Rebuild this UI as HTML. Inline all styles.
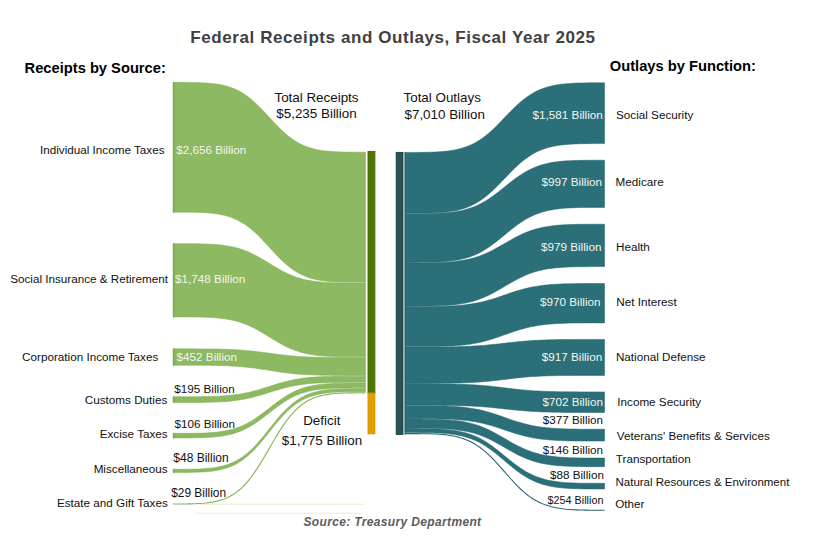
<!DOCTYPE html>
<html><head><meta charset="utf-8"><title>Federal Receipts and Outlays, Fiscal Year 2025</title>
<style>
html,body{margin:0;padding:0;background:#fff;}
body{width:815px;height:541px;overflow:hidden;}
svg{display:block;font-family:"Liberation Sans", Arial, sans-serif;}
</style></head><body>
<svg width="815" height="541" viewBox="0 0 815 541">
<rect width="815" height="541" fill="#fff"/>
<path d="M200,504.2 L365,504.2" stroke="#f6e7cb" stroke-width="1" fill="none"/>
<path d="M195.5,513.2 L362.5,513.2" stroke="#f6e7cb" stroke-width="1" fill="none"/>
<path d="M173.00,82.35L176.01,82.35L179.02,82.35L182.02,82.36L185.03,82.37L188.04,82.39L191.05,82.43L194.05,82.48L197.06,82.55L200.07,82.65L203.08,82.79L206.09,82.97L209.09,83.20L212.10,83.49L215.11,83.85L218.12,84.30L221.12,84.84L224.13,85.50L227.14,86.30L230.15,87.24L233.16,88.34L236.16,89.63L239.17,91.12L242.18,92.82L245.19,94.75L248.20,96.90L251.20,99.28L254.21,101.88L257.22,104.68L260.23,107.66L263.23,110.77L266.24,113.99L269.25,117.25L272.26,120.51L275.27,123.73L278.27,126.84L281.28,129.82L284.29,132.62L287.30,135.22L290.30,137.60L293.31,139.75L296.32,141.68L299.33,143.38L302.34,144.87L305.34,146.16L308.35,147.26L311.36,148.20L314.37,149.00L317.38,149.66L320.38,150.20L323.39,150.65L326.40,151.01L329.41,151.30L332.41,151.53L335.42,151.71L338.43,151.85L341.44,151.95L344.45,152.02L347.45,152.07L350.46,152.11L353.47,152.13L356.48,152.14L359.48,152.15L362.49,152.15L365.50,152.15L365.50,282.35L362.49,282.35L359.48,282.35L356.48,282.34L353.47,282.33L350.46,282.31L347.45,282.27L344.45,282.22L341.44,282.15L338.43,282.04L335.42,281.91L332.41,281.73L329.41,281.50L326.40,281.21L323.39,280.84L320.38,280.39L317.38,279.84L314.37,279.18L311.36,278.38L308.35,277.44L305.34,276.32L302.34,275.03L299.33,273.53L296.32,271.82L293.31,269.88L290.30,267.71L287.30,265.32L284.29,262.71L281.28,259.89L278.27,256.90L275.27,253.76L272.26,250.53L269.25,247.25L266.24,243.97L263.23,240.74L260.23,237.60L257.22,234.61L254.21,231.79L251.20,229.18L248.20,226.79L245.19,224.62L242.18,222.68L239.17,220.97L236.16,219.47L233.16,218.18L230.15,217.06L227.14,216.12L224.13,215.32L221.12,214.66L218.12,214.11L215.11,213.66L212.10,213.29L209.09,213.00L206.09,212.77L203.08,212.59L200.07,212.46L197.06,212.35L194.05,212.28L191.05,212.23L188.04,212.19L185.03,212.17L182.02,212.16L179.02,212.15L176.01,212.15L173.00,212.15Z" fill="#8cb961" stroke="#7cb14f" stroke-width="0.5"/>
<path d="M173.00,243.65L176.01,243.65L179.02,243.65L182.02,243.65L185.03,243.66L188.04,243.67L191.05,243.69L194.05,243.72L197.06,243.76L200.07,243.82L203.08,243.90L206.09,244.00L209.09,244.13L212.10,244.29L215.11,244.50L218.12,244.75L221.12,245.06L224.13,245.43L227.14,245.88L230.15,246.41L233.16,247.03L236.16,247.76L239.17,248.60L242.18,249.56L245.19,250.65L248.20,251.86L251.20,253.21L254.21,254.68L257.22,256.26L260.23,257.94L263.23,259.69L266.24,261.51L269.25,263.35L272.26,265.19L275.27,267.01L278.27,268.76L281.28,270.44L284.29,272.02L287.30,273.49L290.30,274.84L293.31,276.05L296.32,277.14L299.33,278.10L302.34,278.94L305.34,279.67L308.35,280.29L311.36,280.82L314.37,281.27L317.38,281.64L320.38,281.95L323.39,282.20L326.40,282.41L329.41,282.57L332.41,282.70L335.42,282.80L338.43,282.88L341.44,282.94L344.45,282.98L347.45,283.01L350.46,283.03L353.47,283.04L356.48,283.05L359.48,283.05L362.49,283.05L365.50,283.05L365.50,356.85L362.49,356.85L359.48,356.85L356.48,356.85L353.47,356.84L350.46,356.83L347.45,356.81L344.45,356.78L341.44,356.73L338.43,356.68L335.42,356.60L332.41,356.50L329.41,356.37L326.40,356.20L323.39,355.99L320.38,355.74L317.38,355.42L314.37,355.05L311.36,354.59L308.35,354.06L305.34,353.42L302.34,352.69L299.33,351.84L296.32,350.86L293.31,349.76L290.30,348.53L287.30,347.17L284.29,345.68L281.28,344.08L278.27,342.38L275.27,340.60L272.26,338.77L269.25,336.90L266.24,335.03L263.23,333.20L260.23,331.42L257.22,329.72L254.21,328.12L251.20,326.63L248.20,325.27L245.19,324.04L242.18,322.94L239.17,321.96L236.16,321.11L233.16,320.38L230.15,319.74L227.14,319.21L224.13,318.75L221.12,318.38L218.12,318.06L215.11,317.81L212.10,317.60L209.09,317.43L206.09,317.30L203.08,317.20L200.07,317.12L197.06,317.07L194.05,317.02L191.05,316.99L188.04,316.97L185.03,316.96L182.02,316.95L179.02,316.95L176.01,316.95L173.00,316.95Z" fill="#8cb961" stroke="#7cb14f" stroke-width="0.5"/>
<path d="M173.00,348.85L176.01,348.85L179.02,348.85L182.02,348.85L185.03,348.85L188.04,348.86L191.05,348.86L194.05,348.87L197.06,348.88L200.07,348.89L203.08,348.90L206.09,348.93L209.09,348.96L212.10,348.99L215.11,349.04L218.12,349.09L221.12,349.16L224.13,349.24L227.14,349.34L230.15,349.46L233.16,349.60L236.16,349.76L239.17,349.94L242.18,350.16L245.19,350.40L248.20,350.66L251.20,350.96L254.21,351.28L257.22,351.63L260.23,352.00L263.23,352.39L266.24,352.79L269.25,353.20L272.26,353.61L275.27,354.01L278.27,354.40L281.28,354.77L284.29,355.12L287.30,355.44L290.30,355.74L293.31,356.00L296.32,356.24L299.33,356.46L302.34,356.64L305.34,356.80L308.35,356.94L311.36,357.06L314.37,357.16L317.38,357.24L320.38,357.31L323.39,357.36L326.40,357.41L329.41,357.44L332.41,357.47L335.42,357.50L338.43,357.51L341.44,357.52L344.45,357.53L347.45,357.54L350.46,357.54L353.47,357.55L356.48,357.55L359.48,357.55L362.49,357.55L365.50,357.55L365.50,375.45L362.49,375.45L359.48,375.45L356.48,375.45L353.47,375.45L350.46,375.44L347.45,375.44L344.45,375.43L341.44,375.42L338.43,375.41L335.42,375.39L332.41,375.36L329.41,375.33L326.40,375.28L323.39,375.23L320.38,375.17L317.38,375.09L314.37,374.99L311.36,374.87L308.35,374.74L305.34,374.57L302.34,374.39L299.33,374.17L296.32,373.92L293.31,373.64L290.30,373.32L287.30,372.98L284.29,372.60L281.28,372.19L278.27,371.75L275.27,371.30L272.26,370.83L269.25,370.35L266.24,369.87L263.23,369.40L260.23,368.95L257.22,368.51L254.21,368.10L251.20,367.72L248.20,367.38L245.19,367.06L242.18,366.78L239.17,366.53L236.16,366.31L233.16,366.13L230.15,365.96L227.14,365.83L224.13,365.71L221.12,365.61L218.12,365.53L215.11,365.47L212.10,365.42L209.09,365.37L206.09,365.34L203.08,365.31L200.07,365.29L197.06,365.28L194.05,365.27L191.05,365.26L188.04,365.26L185.03,365.25L182.02,365.25L179.02,365.25L176.01,365.25L173.00,365.25Z" fill="#8cb961" stroke="#7cb14f" stroke-width="0.5"/>
<path d="M173.00,396.75L176.01,396.75L179.02,396.75L182.02,396.75L185.03,396.74L188.04,396.74L191.05,396.73L194.05,396.71L197.06,396.69L200.07,396.66L203.08,396.62L206.09,396.57L209.09,396.50L212.10,396.41L215.11,396.31L218.12,396.18L221.12,396.01L224.13,395.82L227.14,395.59L230.15,395.31L233.16,394.98L236.16,394.60L239.17,394.16L242.18,393.66L245.19,393.09L248.20,392.46L251.20,391.75L254.21,390.99L257.22,390.16L260.23,389.28L263.23,388.36L266.24,387.41L269.25,386.45L272.26,385.49L275.27,384.54L278.27,383.62L281.28,382.74L284.29,381.91L287.30,381.15L290.30,380.44L293.31,379.81L296.32,379.24L299.33,378.74L302.34,378.30L305.34,377.92L308.35,377.59L311.36,377.31L314.37,377.08L317.38,376.89L320.38,376.72L323.39,376.59L326.40,376.49L329.41,376.40L332.41,376.33L335.42,376.28L338.43,376.24L341.44,376.21L344.45,376.19L347.45,376.17L350.46,376.16L353.47,376.16L356.48,376.15L359.48,376.15L362.49,376.15L365.50,376.15L365.50,382.35L362.49,382.35L359.48,382.35L356.48,382.35L353.47,382.36L350.46,382.36L347.45,382.37L344.45,382.39L341.44,382.41L338.43,382.44L335.42,382.48L332.41,382.53L329.41,382.60L326.40,382.68L323.39,382.78L320.38,382.91L317.38,383.07L314.37,383.26L311.36,383.49L308.35,383.76L305.34,384.08L302.34,384.46L299.33,384.89L296.32,385.38L293.31,385.94L290.30,386.56L287.30,387.25L284.29,388.00L281.28,388.81L278.27,389.67L275.27,390.58L272.26,391.51L269.25,392.45L266.24,393.39L263.23,394.32L260.23,395.23L257.22,396.09L254.21,396.90L251.20,397.65L248.20,398.34L245.19,398.96L242.18,399.52L239.17,400.01L236.16,400.44L233.16,400.82L230.15,401.14L227.14,401.41L224.13,401.64L221.12,401.83L218.12,401.99L215.11,402.12L212.10,402.22L209.09,402.30L206.09,402.37L203.08,402.42L200.07,402.46L197.06,402.49L194.05,402.51L191.05,402.53L188.04,402.54L185.03,402.54L182.02,402.55L179.02,402.55L176.01,402.55L173.00,402.55Z" fill="#8cb961" stroke="#7cb14f" stroke-width="0.5"/>
<path d="M173.00,433.35L176.01,433.35L179.02,433.35L182.02,433.34L185.03,433.34L188.04,433.32L191.05,433.29L194.05,433.26L197.06,433.20L200.07,433.13L203.08,433.03L206.09,432.90L209.09,432.74L212.10,432.53L215.11,432.27L218.12,431.95L221.12,431.55L224.13,431.08L227.14,430.51L230.15,429.83L233.16,429.03L236.16,428.10L239.17,427.03L242.18,425.80L245.19,424.42L248.20,422.86L251.20,421.15L254.21,419.27L257.22,417.26L260.23,415.11L263.23,412.87L266.24,410.55L269.25,408.20L272.26,405.85L275.27,403.53L278.27,401.29L281.28,399.14L284.29,397.13L287.30,395.25L290.30,393.54L293.31,391.98L296.32,390.60L299.33,389.37L302.34,388.30L305.34,387.37L308.35,386.57L311.36,385.89L314.37,385.32L317.38,384.85L320.38,384.45L323.39,384.13L326.40,383.87L329.41,383.66L332.41,383.50L335.42,383.37L338.43,383.27L341.44,383.20L344.45,383.14L347.45,383.11L350.46,383.08L353.47,383.06L356.48,383.06L359.48,383.05L362.49,383.05L365.50,383.05L365.50,387.85L362.49,387.85L359.48,387.85L356.48,387.86L353.47,387.86L350.46,387.88L347.45,387.91L344.45,387.94L341.44,388.00L338.43,388.07L335.42,388.17L332.41,388.29L329.41,388.46L326.40,388.67L323.39,388.93L320.38,389.25L317.38,389.64L314.37,390.11L311.36,390.68L308.35,391.36L305.34,392.15L302.34,393.08L299.33,394.15L296.32,395.37L293.31,396.75L290.30,398.30L287.30,400.00L284.29,401.87L281.28,403.88L278.27,406.02L275.27,408.25L272.26,410.56L269.25,412.90L266.24,415.24L263.23,417.55L260.23,419.78L257.22,421.92L254.21,423.93L251.20,425.80L248.20,427.50L245.19,429.05L242.18,430.43L239.17,431.65L236.16,432.72L233.16,433.65L230.15,434.44L227.14,435.12L224.13,435.69L221.12,436.16L218.12,436.55L215.11,436.87L212.10,437.13L209.09,437.34L206.09,437.51L203.08,437.63L200.07,437.73L197.06,437.80L194.05,437.86L191.05,437.89L188.04,437.92L185.03,437.94L182.02,437.94L179.02,437.95L176.01,437.95L173.00,437.95Z" fill="#8cb961" stroke="#7cb14f" stroke-width="0.5"/>
<path d="M173.00,469.25L176.01,469.25L179.02,469.25L182.02,469.24L185.03,469.23L188.04,469.20L191.05,469.16L194.05,469.10L197.06,469.02L200.07,468.90L203.08,468.74L206.09,468.53L209.09,468.27L212.10,467.94L215.11,467.52L218.12,467.00L221.12,466.37L224.13,465.60L227.14,464.69L230.15,463.60L233.16,462.32L236.16,460.83L239.17,459.11L242.18,457.14L245.19,454.92L248.20,452.42L251.20,449.67L254.21,446.67L257.22,443.43L260.23,439.99L263.23,436.39L266.24,432.67L269.25,428.90L272.26,425.13L275.27,421.41L278.27,417.81L281.28,414.37L284.29,411.13L287.30,408.13L290.30,405.38L293.31,402.88L296.32,400.66L299.33,398.69L302.34,396.97L305.34,395.48L308.35,394.20L311.36,393.11L314.37,392.20L317.38,391.43L320.38,390.80L323.39,390.28L326.40,389.86L329.41,389.53L332.41,389.27L335.42,389.06L338.43,388.90L341.44,388.78L344.45,388.70L347.45,388.64L350.46,388.60L353.47,388.57L356.48,388.56L359.48,388.55L362.49,388.55L365.50,388.55L365.50,391.65L362.49,391.65L359.48,391.65L356.48,391.66L353.47,391.67L350.46,391.70L347.45,391.74L344.45,391.80L341.44,391.88L338.43,392.00L335.42,392.16L332.41,392.37L329.41,392.63L326.40,392.97L323.39,393.39L320.38,393.90L317.38,394.54L314.37,395.30L311.36,396.22L308.35,397.31L305.34,398.59L302.34,400.08L299.33,401.80L296.32,403.77L293.31,406.00L290.30,408.50L287.30,411.25L284.29,414.26L281.28,417.50L278.27,420.95L275.27,424.55L272.26,428.27L269.25,432.05L266.24,435.83L263.23,439.55L260.23,443.15L257.22,446.60L254.21,449.84L251.20,452.85L248.20,455.60L245.19,458.10L242.18,460.33L239.17,462.30L236.16,464.02L233.16,465.51L230.15,466.79L227.14,467.88L224.13,468.80L221.12,469.56L218.12,470.20L215.11,470.71L212.10,471.13L209.09,471.47L206.09,471.73L203.08,471.94L200.07,472.10L197.06,472.22L194.05,472.30L191.05,472.36L188.04,472.40L185.03,472.43L182.02,472.44L179.02,472.45L176.01,472.45L173.00,472.45Z" fill="#8cb961" stroke="#7cb14f" stroke-width="0.5"/>
<path d="M173.00,504.00L176.01,504.00L179.02,504.00L182.02,503.99L185.03,503.97L188.04,503.93L191.05,503.88L194.05,503.79L197.06,503.68L200.07,503.51L203.08,503.30L206.09,503.01L209.09,502.65L212.10,502.19L215.11,501.61L218.12,500.90L221.12,500.03L224.13,498.98L227.14,497.71L230.15,496.22L233.16,494.45L236.16,492.40L239.17,490.03L242.18,487.31L245.19,484.25L248.20,480.82L251.20,477.02L254.21,472.88L257.22,468.42L260.23,463.68L263.23,458.72L266.24,453.60L269.25,448.40L272.26,443.20L275.27,438.08L278.27,433.12L281.28,428.38L284.29,423.92L287.30,419.78L290.30,415.98L293.31,412.55L296.32,409.49L299.33,406.77L302.34,404.40L305.34,402.35L308.35,400.58L311.36,399.09L314.37,397.82L317.38,396.77L320.38,395.90L323.39,395.19L326.40,394.61L329.41,394.15L332.41,393.79L335.42,393.50L338.43,393.29L341.44,393.12L344.45,393.01L347.45,392.92L350.46,392.87L353.47,392.83L356.48,392.81L359.48,392.80L362.49,392.80L365.50,392.80" stroke="#86b75a" stroke-width="1.15" fill="none"/>
<rect x="173.0" y="82.0" width="1.6" height="130.50" fill="#7aae4c"/>
<rect x="173.0" y="243.3" width="1.6" height="74.00" fill="#7aae4c"/>
<rect x="173.0" y="348.5" width="1.6" height="17.10" fill="#7aae4c"/>
<rect x="173.0" y="396.4" width="1.6" height="6.50" fill="#7aae4c"/>
<rect x="173.0" y="433.0" width="1.6" height="5.30" fill="#7aae4c"/>
<rect x="173.0" y="468.9" width="1.6" height="3.90" fill="#7aae4c"/>
<rect x="368.0" y="151.4" width="6.9" height="241.6" fill="#517600" stroke="#3d6c00" stroke-width="0.9"/>
<rect x="368.0" y="393" width="6.9" height="40.8" fill="#e0a100" stroke="#d69300" stroke-width="0.9"/>
<path d="M404.80,152.40L407.92,152.40L411.04,152.40L414.16,152.39L417.28,152.38L420.40,152.36L423.52,152.32L426.64,152.27L429.76,152.20L432.88,152.10L436.00,151.96L439.12,151.78L442.24,151.56L445.36,151.27L448.48,150.90L451.60,150.46L454.73,149.91L457.85,149.26L460.97,148.47L464.09,147.53L467.21,146.42L470.33,145.14L473.45,143.65L476.57,141.96L479.69,140.04L482.81,137.89L485.93,135.51L489.05,132.92L492.17,130.13L495.29,127.16L498.41,124.06L501.53,120.85L504.65,117.60L507.77,114.35L510.89,111.14L514.01,108.04L517.13,105.07L520.25,102.28L523.37,99.69L526.49,97.31L529.61,95.16L532.73,93.24L535.85,91.55L538.97,90.06L542.09,88.78L545.21,87.67L548.33,86.73L551.45,85.94L554.58,85.29L557.70,84.74L560.82,84.30L563.94,83.93L567.06,83.64L570.18,83.42L573.30,83.24L576.42,83.10L579.54,83.00L582.66,82.93L585.78,82.88L588.90,82.84L592.02,82.82L595.14,82.81L598.26,82.80L601.38,82.80L604.50,82.80L604.50,143.60L601.38,143.60L598.26,143.60L595.14,143.61L592.02,143.62L588.90,143.64L585.78,143.68L582.66,143.73L579.54,143.80L576.42,143.90L573.30,144.04L570.18,144.22L567.06,144.45L563.94,144.74L560.82,145.10L557.70,145.54L554.58,146.09L551.45,146.75L548.33,147.54L545.21,148.48L542.09,149.58L538.97,150.87L535.85,152.36L532.73,154.06L529.61,155.98L526.49,158.13L523.37,160.51L520.25,163.11L517.13,165.90L514.01,168.87L510.89,171.98L507.77,175.19L504.65,178.45L501.53,181.71L498.41,184.92L495.29,188.03L492.17,191.00L489.05,193.79L485.93,196.39L482.81,198.77L479.69,200.92L476.57,202.84L473.45,204.54L470.33,206.03L467.21,207.32L464.09,208.42L460.97,209.36L457.85,210.15L454.73,210.81L451.60,211.36L448.48,211.80L445.36,212.16L442.24,212.45L439.12,212.68L436.00,212.86L432.88,213.00L429.76,213.10L426.64,213.17L423.52,213.22L420.40,213.26L417.28,213.28L414.16,213.29L411.04,213.30L407.92,213.30L404.80,213.30Z" fill="#2b6f79" stroke="#1f6571" stroke-width="0.5"/>
<path d="M404.80,213.70L407.92,213.70L411.04,213.70L414.16,213.69L417.28,213.68L420.40,213.67L423.52,213.64L426.64,213.60L429.76,213.54L432.88,213.47L436.00,213.36L439.12,213.23L442.24,213.05L445.36,212.83L448.48,212.55L451.60,212.21L454.73,211.79L457.85,211.28L460.97,210.68L464.09,209.95L467.21,209.11L470.33,208.12L473.45,206.98L476.57,205.67L479.69,204.20L482.81,202.55L485.93,200.72L489.05,198.73L492.17,196.58L495.29,194.30L498.41,191.91L501.53,189.45L504.65,186.95L507.77,184.45L510.89,181.99L514.01,179.60L517.13,177.32L520.25,175.17L523.37,173.18L526.49,171.35L529.61,169.70L532.73,168.23L535.85,166.92L538.97,165.78L542.09,164.79L545.21,163.95L548.33,163.22L551.45,162.62L554.58,162.11L557.70,161.69L560.82,161.35L563.94,161.07L567.06,160.85L570.18,160.67L573.30,160.54L576.42,160.43L579.54,160.36L582.66,160.30L585.78,160.26L588.90,160.23L592.02,160.22L595.14,160.21L598.26,160.20L601.38,160.20L604.50,160.20L604.50,207.40L601.38,207.40L598.26,207.40L595.14,207.41L592.02,207.42L588.90,207.43L585.78,207.46L582.66,207.50L579.54,207.56L576.42,207.64L573.30,207.75L570.18,207.89L567.06,208.07L563.94,208.30L560.82,208.58L557.70,208.93L554.58,209.36L551.45,209.89L548.33,210.51L545.21,211.25L542.09,212.12L538.97,213.14L535.85,214.31L532.73,215.65L529.61,217.17L526.49,218.87L523.37,220.74L520.25,222.79L517.13,225.00L514.01,227.34L510.89,229.80L507.77,232.33L504.65,234.90L501.53,237.47L498.41,240.00L495.29,242.46L492.17,244.80L489.05,247.01L485.93,249.06L482.81,250.93L479.69,252.63L476.57,254.15L473.45,255.49L470.33,256.66L467.21,257.68L464.09,258.55L460.97,259.29L457.85,259.91L454.73,260.44L451.60,260.87L448.48,261.22L445.36,261.50L442.24,261.73L439.12,261.91L436.00,262.05L432.88,262.16L429.76,262.24L426.64,262.30L423.52,262.34L420.40,262.37L417.28,262.38L414.16,262.39L411.04,262.40L407.92,262.40L404.80,262.40Z" fill="#2b6f79" stroke="#1f6571" stroke-width="0.5"/>
<path d="M404.80,262.80L407.92,262.80L411.04,262.80L414.16,262.80L417.28,262.79L420.40,262.78L423.52,262.76L426.64,262.73L429.76,262.69L432.88,262.63L436.00,262.56L439.12,262.46L442.24,262.33L445.36,262.17L448.48,261.97L451.60,261.72L454.73,261.42L457.85,261.06L460.97,260.62L464.09,260.10L467.21,259.49L470.33,258.77L473.45,257.95L476.57,257.01L479.69,255.94L482.81,254.75L485.93,253.44L489.05,252.00L492.17,250.45L495.29,248.80L498.41,247.08L501.53,245.30L504.65,243.50L507.77,241.70L510.89,239.92L514.01,238.20L517.13,236.55L520.25,235.00L523.37,233.56L526.49,232.25L529.61,231.06L532.73,229.99L535.85,229.05L538.97,228.23L542.09,227.51L545.21,226.90L548.33,226.38L551.45,225.94L554.58,225.58L557.70,225.28L560.82,225.03L563.94,224.83L567.06,224.67L570.18,224.54L573.30,224.44L576.42,224.37L579.54,224.31L582.66,224.27L585.78,224.24L588.90,224.22L592.02,224.21L595.14,224.20L598.26,224.20L601.38,224.20L604.50,224.20L604.50,266.60L601.38,266.60L598.26,266.60L595.14,266.60L592.02,266.61L588.90,266.62L585.78,266.64L582.66,266.67L579.54,266.71L576.42,266.77L573.30,266.85L570.18,266.95L567.06,267.08L563.94,267.24L560.82,267.45L557.70,267.70L554.58,268.01L551.45,268.38L548.33,268.83L545.21,269.37L542.09,269.99L538.97,270.72L535.85,271.56L532.73,272.53L529.61,273.62L526.49,274.84L523.37,276.18L520.25,277.65L517.13,279.24L514.01,280.92L510.89,282.69L507.77,284.50L504.65,286.35L501.53,288.20L498.41,290.01L495.29,291.78L492.17,293.46L489.05,295.05L485.93,296.52L482.81,297.86L479.69,299.08L476.57,300.17L473.45,301.14L470.33,301.98L467.21,302.71L464.09,303.33L460.97,303.87L457.85,304.32L454.73,304.69L451.60,305.00L448.48,305.25L445.36,305.46L442.24,305.62L439.12,305.75L436.00,305.85L432.88,305.93L429.76,305.99L426.64,306.03L423.52,306.06L420.40,306.08L417.28,306.09L414.16,306.10L411.04,306.10L407.92,306.10L404.80,306.10Z" fill="#2b6f79" stroke="#1f6571" stroke-width="0.5"/>
<path d="M404.80,306.50L407.92,306.50L411.04,306.50L414.16,306.50L417.28,306.49L420.40,306.49L423.52,306.47L426.64,306.46L429.76,306.43L432.88,306.40L436.00,306.35L439.12,306.30L442.24,306.22L445.36,306.13L448.48,306.01L451.60,305.86L454.73,305.68L457.85,305.46L460.97,305.20L464.09,304.89L467.21,304.53L470.33,304.10L473.45,303.61L476.57,303.05L479.69,302.41L482.81,301.70L485.93,300.92L489.05,300.06L492.17,299.14L495.29,298.16L498.41,297.13L501.53,296.08L504.65,295.00L507.77,293.92L510.89,292.87L514.01,291.84L517.13,290.86L520.25,289.94L523.37,289.08L526.49,288.30L529.61,287.59L532.73,286.95L535.85,286.39L538.97,285.90L542.09,285.47L545.21,285.11L548.33,284.80L551.45,284.54L554.58,284.32L557.70,284.14L560.82,283.99L563.94,283.87L567.06,283.78L570.18,283.70L573.30,283.65L576.42,283.60L579.54,283.57L582.66,283.54L585.78,283.53L588.90,283.51L592.02,283.51L595.14,283.50L598.26,283.50L601.38,283.50L604.50,283.50L604.50,322.90L601.38,322.90L598.26,322.90L595.14,322.90L592.02,322.91L588.90,322.91L585.78,322.93L582.66,322.94L579.54,322.97L576.42,323.00L573.30,323.05L570.18,323.11L567.06,323.19L563.94,323.29L560.82,323.41L557.70,323.56L554.58,323.75L551.45,323.97L548.33,324.24L545.21,324.56L542.09,324.93L538.97,325.37L535.85,325.88L532.73,326.46L529.61,327.11L526.49,327.84L523.37,328.65L520.25,329.53L517.13,330.48L514.01,331.49L510.89,332.55L507.77,333.64L504.65,334.75L501.53,335.86L498.41,336.95L495.29,338.01L492.17,339.02L489.05,339.97L485.93,340.85L482.81,341.66L479.69,342.39L476.57,343.04L473.45,343.62L470.33,344.13L467.21,344.57L464.09,344.94L460.97,345.26L457.85,345.53L454.73,345.75L451.60,345.94L448.48,346.09L445.36,346.21L442.24,346.31L439.12,346.39L436.00,346.45L432.88,346.50L429.76,346.53L426.64,346.56L423.52,346.57L420.40,346.59L417.28,346.59L414.16,346.60L411.04,346.60L407.92,346.60L404.80,346.60Z" fill="#2b6f79" stroke="#1f6571" stroke-width="0.5"/>
<path d="M404.80,347.00L407.92,347.00L411.04,347.00L414.16,347.00L417.28,347.00L420.40,347.00L423.52,346.99L426.64,346.99L429.76,346.98L432.88,346.97L436.00,346.95L439.12,346.93L442.24,346.91L445.36,346.88L448.48,346.84L451.60,346.79L454.73,346.73L457.85,346.66L460.97,346.57L464.09,346.47L467.21,346.35L470.33,346.21L473.45,346.04L476.57,345.86L479.69,345.65L482.81,345.42L485.93,345.16L489.05,344.87L492.17,344.57L495.29,344.24L498.41,343.91L501.53,343.56L504.65,343.20L507.77,342.84L510.89,342.49L514.01,342.16L517.13,341.83L520.25,341.53L523.37,341.24L526.49,340.98L529.61,340.75L532.73,340.54L535.85,340.36L538.97,340.19L542.09,340.05L545.21,339.93L548.33,339.83L551.45,339.74L554.58,339.67L557.70,339.61L560.82,339.56L563.94,339.52L567.06,339.49L570.18,339.47L573.30,339.45L576.42,339.43L579.54,339.42L582.66,339.41L585.78,339.41L588.90,339.40L592.02,339.40L595.14,339.40L598.26,339.40L601.38,339.40L604.50,339.40L604.50,375.40L601.38,375.40L598.26,375.40L595.14,375.40L592.02,375.40L588.90,375.40L585.78,375.41L582.66,375.41L579.54,375.42L576.42,375.43L573.30,375.45L570.18,375.47L567.06,375.50L563.94,375.53L560.82,375.57L557.70,375.62L554.58,375.69L551.45,375.76L548.33,375.85L545.21,375.96L542.09,376.09L538.97,376.23L535.85,376.41L532.73,376.60L529.61,376.82L526.49,377.07L523.37,377.34L520.25,377.64L517.13,377.96L514.01,378.30L510.89,378.66L507.77,379.03L504.65,379.40L501.53,379.77L498.41,380.14L495.29,380.50L492.17,380.84L489.05,381.16L485.93,381.46L482.81,381.73L479.69,381.98L476.57,382.20L473.45,382.39L470.33,382.57L467.21,382.71L464.09,382.84L460.97,382.95L457.85,383.04L454.73,383.11L451.60,383.18L448.48,383.23L445.36,383.27L442.24,383.30L439.12,383.33L436.00,383.35L432.88,383.37L429.76,383.38L426.64,383.39L423.52,383.39L420.40,383.40L417.28,383.40L414.16,383.40L411.04,383.40L407.92,383.40L404.80,383.40Z" fill="#2b6f79" stroke="#1f6571" stroke-width="0.5"/>
<path d="M404.80,383.80L407.92,383.80L411.04,383.80L414.16,383.80L417.28,383.80L420.40,383.80L423.52,383.81L426.64,383.81L429.76,383.82L432.88,383.84L436.00,383.85L439.12,383.87L442.24,383.90L445.36,383.93L448.48,383.97L451.60,384.03L454.73,384.09L457.85,384.17L460.97,384.26L464.09,384.37L467.21,384.50L470.33,384.65L473.45,384.82L476.57,385.02L479.69,385.24L482.81,385.49L485.93,385.77L489.05,386.07L492.17,386.39L495.29,386.74L498.41,387.10L501.53,387.47L504.65,387.85L507.77,388.23L510.89,388.60L514.01,388.96L517.13,389.31L520.25,389.63L523.37,389.93L526.49,390.21L529.61,390.46L532.73,390.68L535.85,390.88L538.97,391.05L542.09,391.20L545.21,391.33L548.33,391.44L551.45,391.53L554.58,391.61L557.70,391.67L560.82,391.73L563.94,391.77L567.06,391.80L570.18,391.83L573.30,391.85L576.42,391.86L579.54,391.88L582.66,391.89L585.78,391.89L588.90,391.90L592.02,391.90L595.14,391.90L598.26,391.90L601.38,391.90L604.50,391.90L604.50,412.50L601.38,412.50L598.26,412.50L595.14,412.50L592.02,412.50L588.90,412.50L585.78,412.49L582.66,412.49L579.54,412.48L576.42,412.47L573.30,412.45L570.18,412.44L567.06,412.41L563.94,412.38L560.82,412.35L557.70,412.30L554.58,412.24L551.45,412.17L548.33,412.09L545.21,412.00L542.09,411.88L538.97,411.75L535.85,411.60L532.73,411.42L529.61,411.22L526.49,411.00L523.37,410.75L520.25,410.49L517.13,410.20L514.01,409.89L510.89,409.57L507.77,409.24L504.65,408.90L501.53,408.56L498.41,408.23L495.29,407.91L492.17,407.60L489.05,407.31L485.93,407.05L482.81,406.80L479.69,406.58L476.57,406.38L473.45,406.20L470.33,406.05L467.21,405.92L464.09,405.80L460.97,405.71L457.85,405.63L454.73,405.56L451.60,405.50L448.48,405.45L445.36,405.42L442.24,405.39L439.12,405.36L436.00,405.35L432.88,405.33L429.76,405.32L426.64,405.31L423.52,405.31L420.40,405.30L417.28,405.30L414.16,405.30L411.04,405.30L407.92,405.30L404.80,405.30Z" fill="#2b6f79" stroke="#1f6571" stroke-width="0.5"/>
<path d="M404.80,405.70L407.92,405.70L411.04,405.70L414.16,405.70L417.28,405.71L420.40,405.71L423.52,405.73L426.64,405.74L429.76,405.77L432.88,405.80L436.00,405.85L439.12,405.91L442.24,405.99L445.36,406.08L448.48,406.20L451.60,406.36L454.73,406.54L457.85,406.76L460.97,407.03L464.09,407.35L467.21,407.72L470.33,408.15L473.45,408.65L476.57,409.23L479.69,409.87L482.81,410.60L485.93,411.40L489.05,412.28L492.17,413.22L495.29,414.22L498.41,415.27L501.53,416.35L504.65,417.45L507.77,418.55L510.89,419.63L514.01,420.68L517.13,421.68L520.25,422.62L523.37,423.50L526.49,424.30L529.61,425.03L532.73,425.67L535.85,426.25L538.97,426.75L542.09,427.18L545.21,427.55L548.33,427.87L551.45,428.14L554.58,428.36L557.70,428.54L560.82,428.70L563.94,428.82L567.06,428.91L570.18,428.99L573.30,429.05L576.42,429.10L579.54,429.13L582.66,429.16L585.78,429.17L588.90,429.19L592.02,429.19L595.14,429.20L598.26,429.20L601.38,429.20L604.50,429.20L604.50,441.10L601.38,441.10L598.26,441.10L595.14,441.10L592.02,441.09L588.90,441.09L585.78,441.08L582.66,441.06L579.54,441.03L576.42,441.00L573.30,440.96L570.18,440.90L567.06,440.83L563.94,440.74L560.82,440.62L557.70,440.48L554.58,440.30L551.45,440.09L548.33,439.83L545.21,439.53L542.09,439.18L538.97,438.76L535.85,438.29L532.73,437.74L529.61,437.12L526.49,436.43L523.37,435.67L520.25,434.83L517.13,433.93L514.01,432.98L510.89,431.98L507.77,430.95L504.65,429.90L501.53,428.85L498.41,427.82L495.29,426.82L492.17,425.87L489.05,424.97L485.93,424.13L482.81,423.37L479.69,422.68L476.57,422.06L473.45,421.51L470.33,421.04L467.21,420.62L464.09,420.27L460.97,419.97L457.85,419.71L454.73,419.50L451.60,419.32L448.48,419.18L445.36,419.06L442.24,418.97L439.12,418.90L436.00,418.84L432.88,418.80L429.76,418.77L426.64,418.74L423.52,418.72L420.40,418.71L417.28,418.71L414.16,418.70L411.04,418.70L407.92,418.70L404.80,418.70Z" fill="#2b6f79" stroke="#1f6571" stroke-width="0.5"/>
<path d="M404.80,419.10L407.92,419.10L411.04,419.10L414.16,419.10L417.28,419.11L420.40,419.12L423.52,419.14L426.64,419.17L429.76,419.21L432.88,419.27L436.00,419.35L439.12,419.44L442.24,419.57L445.36,419.73L448.48,419.94L451.60,420.18L454.73,420.49L457.85,420.86L460.97,421.30L464.09,421.82L467.21,422.44L470.33,423.16L473.45,423.99L476.57,424.94L479.69,426.01L482.81,427.21L485.93,428.54L489.05,429.99L492.17,431.55L495.29,433.20L498.41,434.94L501.53,436.73L504.65,438.55L507.77,440.37L510.89,442.16L514.01,443.90L517.13,445.55L520.25,447.11L523.37,448.56L526.49,449.89L529.61,451.09L532.73,452.16L535.85,453.11L538.97,453.94L542.09,454.66L545.21,455.28L548.33,455.80L551.45,456.24L554.58,456.61L557.70,456.92L560.82,457.16L563.94,457.37L567.06,457.53L570.18,457.66L573.30,457.75L576.42,457.83L579.54,457.89L582.66,457.93L585.78,457.96L588.90,457.98L592.02,457.99L595.14,458.00L598.26,458.00L601.38,458.00L604.50,458.00L604.50,466.70L601.38,466.70L598.26,466.70L595.14,466.70L592.02,466.69L588.90,466.68L585.78,466.66L582.66,466.63L579.54,466.59L576.42,466.53L573.30,466.46L570.18,466.36L567.06,466.23L563.94,466.07L560.82,465.87L557.70,465.63L554.58,465.32L551.45,464.96L548.33,464.52L545.21,464.00L542.09,463.39L538.97,462.68L535.85,461.86L532.73,460.92L529.61,459.86L526.49,458.67L523.37,457.36L520.25,455.93L517.13,454.38L514.01,452.74L510.89,451.02L507.77,449.25L504.65,447.45L501.53,445.65L498.41,443.88L495.29,442.16L492.17,440.52L489.05,438.97L485.93,437.54L482.81,436.23L479.69,435.04L476.57,433.98L473.45,433.04L470.33,432.22L467.21,431.51L464.09,430.90L460.97,430.38L457.85,429.94L454.73,429.57L451.60,429.27L448.48,429.03L445.36,428.83L442.24,428.67L439.12,428.54L436.00,428.44L432.88,428.37L429.76,428.31L426.64,428.27L423.52,428.24L420.40,428.22L417.28,428.21L414.16,428.20L411.04,428.20L407.92,428.20L404.80,428.20Z" fill="#2b6f79" stroke="#1f6571" stroke-width="0.5"/>
<path d="M404.80,428.60L407.92,428.60L411.04,428.60L414.16,428.61L417.28,428.62L420.40,428.63L423.52,428.66L426.64,428.70L429.76,428.76L432.88,428.84L436.00,428.95L439.12,429.08L442.24,429.26L445.36,429.49L448.48,429.77L451.60,430.13L454.73,430.55L457.85,431.07L460.97,431.69L464.09,432.43L467.21,433.30L470.33,434.31L473.45,435.47L476.57,436.81L479.69,438.32L482.81,440.00L485.93,441.87L489.05,443.91L492.17,446.10L495.29,448.43L498.41,450.87L501.53,453.39L504.65,455.95L507.77,458.51L510.89,461.03L514.01,463.47L517.13,465.80L520.25,467.99L523.37,470.03L526.49,471.90L529.61,473.58L532.73,475.09L535.85,476.43L538.97,477.59L542.09,478.60L545.21,479.47L548.33,480.21L551.45,480.83L554.58,481.35L557.70,481.77L560.82,482.13L563.94,482.41L567.06,482.64L570.18,482.82L573.30,482.95L576.42,483.06L579.54,483.14L582.66,483.20L585.78,483.24L588.90,483.27L592.02,483.28L595.14,483.29L598.26,483.30L601.38,483.30L604.50,483.30L604.50,489.00L601.38,489.00L598.26,489.00L595.14,488.99L592.02,488.98L588.90,488.97L585.78,488.94L582.66,488.90L579.54,488.84L576.42,488.75L573.30,488.64L570.18,488.50L567.06,488.32L563.94,488.08L560.82,487.79L557.70,487.43L554.58,486.99L551.45,486.45L548.33,485.81L545.21,485.05L542.09,484.16L538.97,483.12L535.85,481.91L532.73,480.54L529.61,478.98L526.49,477.24L523.37,475.32L520.25,473.22L517.13,470.95L514.01,468.55L510.89,466.03L507.77,463.44L504.65,460.80L501.53,458.16L498.41,455.57L495.29,453.05L492.17,450.65L489.05,448.38L485.93,446.28L482.81,444.36L479.69,442.62L476.57,441.06L473.45,439.69L470.33,438.48L467.21,437.44L464.09,436.55L460.97,435.79L457.85,435.15L454.73,434.61L451.60,434.17L448.48,433.81L445.36,433.52L442.24,433.28L439.12,433.10L436.00,432.96L432.88,432.85L429.76,432.76L426.64,432.70L423.52,432.66L420.40,432.63L417.28,432.62L414.16,432.61L411.04,432.60L407.92,432.60L404.80,432.60Z" fill="#2b6f79" stroke="#1f6571" stroke-width="0.5"/>
<path d="M404.80,433.60L407.92,433.60L411.04,433.60L414.16,433.61L417.28,433.62L420.40,433.65L423.52,433.68L426.64,433.74L429.76,433.82L432.88,433.93L436.00,434.08L439.12,434.28L442.24,434.53L445.36,434.85L448.48,435.25L451.60,435.74L454.73,436.34L457.85,437.06L460.97,437.93L464.09,438.96L467.21,440.18L470.33,441.59L473.45,443.23L476.57,445.09L479.69,447.21L482.81,449.57L485.93,452.18L489.05,455.04L492.17,458.11L495.29,461.37L498.41,464.79L501.53,468.32L504.65,471.90L507.77,475.48L510.89,479.01L514.01,482.43L517.13,485.69L520.25,488.76L523.37,491.62L526.49,494.23L529.61,496.59L532.73,498.71L535.85,500.57L538.97,502.21L542.09,503.62L545.21,504.84L548.33,505.87L551.45,506.74L554.58,507.46L557.70,508.06L560.82,508.55L563.94,508.95L567.06,509.27L570.18,509.52L573.30,509.72L576.42,509.87L579.54,509.98L582.66,510.06L585.78,510.12L588.90,510.15L592.02,510.18L595.14,510.19L598.26,510.20L601.38,510.20L604.50,510.20" stroke="#2b5f6d" stroke-width="1.05" fill="none"/>
<rect x="403" y="152" width="1.8" height="282.7" fill="#9db6ba"/>
<rect x="404.8" y="152.2" width="1" height="282.2" fill="#1e6570" fill-opacity="0.8"/>
<rect x="396.2" y="152.4" width="6.4" height="282" fill="#2a5153" stroke="#163f44" stroke-width="0.9"/>
<text x="190.3" y="42.7" font-size="17" text-anchor="start" fill="#404040" font-weight="bold" font-style="normal" letter-spacing="0.58">Federal Receipts and Outlays, Fiscal Year 2025</text>
<text x="24.6" y="72.8" font-size="14.7" text-anchor="start" fill="#000" font-weight="bold" font-style="normal">Receipts by Source:</text>
<text x="609.8" y="71.2" font-size="14.7" text-anchor="start" fill="#000" font-weight="bold" font-style="normal">Outlays by Function:</text>
<text x="164.5" y="153.7" font-size="11.7" text-anchor="end" fill="#111111" font-weight="normal" font-style="normal">Individual Income Taxes</text>
<text x="168.0" y="282.6" font-size="11.7" text-anchor="end" fill="#111111" font-weight="normal" font-style="normal">Social Insurance &amp; Retirement</text>
<text x="158.3" y="361.2" font-size="11.7" text-anchor="end" fill="#111111" font-weight="normal" font-style="normal">Corporation Income Taxes</text>
<text x="167.3" y="403.6" font-size="11.7" text-anchor="end" fill="#111111" font-weight="normal" font-style="normal">Customs Duties</text>
<text x="167.7" y="438.4" font-size="11.7" text-anchor="end" fill="#111111" font-weight="normal" font-style="normal">Excise Taxes</text>
<text x="167.7" y="472.5" font-size="11.7" text-anchor="end" fill="#111111" font-weight="normal" font-style="normal">Miscellaneous</text>
<text x="167.8" y="506.7" font-size="11.7" text-anchor="end" fill="#111111" font-weight="normal" font-style="normal">Estate and Gift Taxes</text>
<text x="176.2" y="154.3" font-size="11.7" text-anchor="start" fill="#f2f6ee" font-weight="normal" font-style="normal">$2,656 Billion</text>
<text x="175.1" y="283.1" font-size="11.7" text-anchor="start" fill="#f2f6ee" font-weight="normal" font-style="normal">$1,748 Billion</text>
<text x="176.6" y="361.0" font-size="11.7" text-anchor="start" fill="#f2f6ee" font-weight="normal" font-style="normal">$452 Billion</text>
<text x="174.3" y="392.7" font-size="11.7" text-anchor="start" fill="#111111" font-weight="normal" font-style="normal">$195 Billion</text>
<text x="174.5" y="427.5" font-size="11.7" text-anchor="start" fill="#111111" font-weight="normal" font-style="normal">$106 Billion</text>
<text x="173.3" y="461.5" font-size="12.0" text-anchor="start" fill="#111111" font-weight="normal" font-style="normal">$48 Billion</text>
<text x="171.2" y="497.1" font-size="11.9" text-anchor="start" fill="#111111" font-weight="normal" font-style="normal">$29 Billion</text>
<text x="316.5" y="101.6" font-size="13.4" text-anchor="middle" fill="#111111" font-weight="normal" font-style="normal">Total Receipts</text>
<text x="316.5" y="117.5" font-size="13.4" text-anchor="middle" fill="#111111" font-weight="normal" font-style="normal">$5,235 Billion</text>
<text x="403.5" y="101.8" font-size="13.4" text-anchor="start" fill="#111111" font-weight="normal" font-style="normal">Total Outlays</text>
<text x="404.5" y="118.7" font-size="13.4" text-anchor="start" fill="#111111" font-weight="normal" font-style="normal">$7,010 Billion</text>
<text x="321.8" y="424.9" font-size="13.4" text-anchor="middle" fill="#111111" font-weight="normal" font-style="normal">Deficit</text>
<text x="322.0" y="445.2" font-size="13.4" text-anchor="middle" fill="#111111" font-weight="normal" font-style="normal">$1,775 Billion</text>
<text x="602.8" y="118.5" font-size="11.7" text-anchor="end" fill="#f2f6ee" font-weight="normal" font-style="normal">$1,581 Billion</text>
<text x="602.0" y="185.7" font-size="11.7" text-anchor="end" fill="#f2f6ee" font-weight="normal" font-style="normal">$997 Billion</text>
<text x="601.4" y="250.7" font-size="11.7" text-anchor="end" fill="#f2f6ee" font-weight="normal" font-style="normal">$979 Billion</text>
<text x="600.5" y="306.2" font-size="11.7" text-anchor="end" fill="#f2f6ee" font-weight="normal" font-style="normal">$970 Billion</text>
<text x="602.2" y="360.5" font-size="11.7" text-anchor="end" fill="#f2f6ee" font-weight="normal" font-style="normal">$917 Billion</text>
<text x="602.9" y="405.5" font-size="11.7" text-anchor="end" fill="#f2f6ee" font-weight="normal" font-style="normal">$702 Billion</text>
<text x="603.1" y="424.3" font-size="11.7" text-anchor="end" fill="#111111" font-weight="normal" font-style="normal">$377 Billion</text>
<text x="603.1" y="454.2" font-size="11.7" text-anchor="end" fill="#111111" font-weight="normal" font-style="normal">$146 Billion</text>
<text x="603.9" y="478.8" font-size="11.7" text-anchor="end" fill="#111111" font-weight="normal" font-style="normal">$88 Billion</text>
<text x="603.4" y="504.2" font-size="10.8" text-anchor="end" fill="#111111" font-weight="normal" font-style="normal">$254 Billion</text>
<text x="616.0" y="118.8" font-size="11.7" text-anchor="start" fill="#111111" font-weight="normal" font-style="normal">Social Security</text>
<text x="615.6" y="185.7" font-size="11.7" text-anchor="start" fill="#111111" font-weight="normal" font-style="normal">Medicare</text>
<text x="616.0" y="250.7" font-size="11.7" text-anchor="start" fill="#111111" font-weight="normal" font-style="normal">Health</text>
<text x="616.3" y="306.2" font-size="11.7" text-anchor="start" fill="#111111" font-weight="normal" font-style="normal">Net Interest</text>
<text x="615.9" y="360.5" font-size="11.7" text-anchor="start" fill="#111111" font-weight="normal" font-style="normal">National Defense</text>
<text x="617.3" y="405.5" font-size="11.7" text-anchor="start" fill="#111111" font-weight="normal" font-style="normal">Income Security</text>
<text x="616.8" y="439.9" font-size="11.7" text-anchor="start" fill="#111111" font-weight="normal" font-style="normal">Veterans' Benefits &amp; Services</text>
<text x="615.8" y="462.7" font-size="11.7" text-anchor="start" fill="#111111" font-weight="normal" font-style="normal">Transportation</text>
<text x="615.5" y="485.7" font-size="11.5" text-anchor="start" fill="#111111" font-weight="normal" font-style="normal">Natural Resources &amp; Environment</text>
<text x="615.2" y="508.4" font-size="11.7" text-anchor="start" fill="#111111" font-weight="normal" font-style="normal">Other</text>
<text x="303.5" y="525.7" font-size="12" text-anchor="start" fill="#5c5c5c" font-weight="bold" font-style="italic" letter-spacing="0.35">Source: Treasury Department</text>
</svg>
</body></html>
